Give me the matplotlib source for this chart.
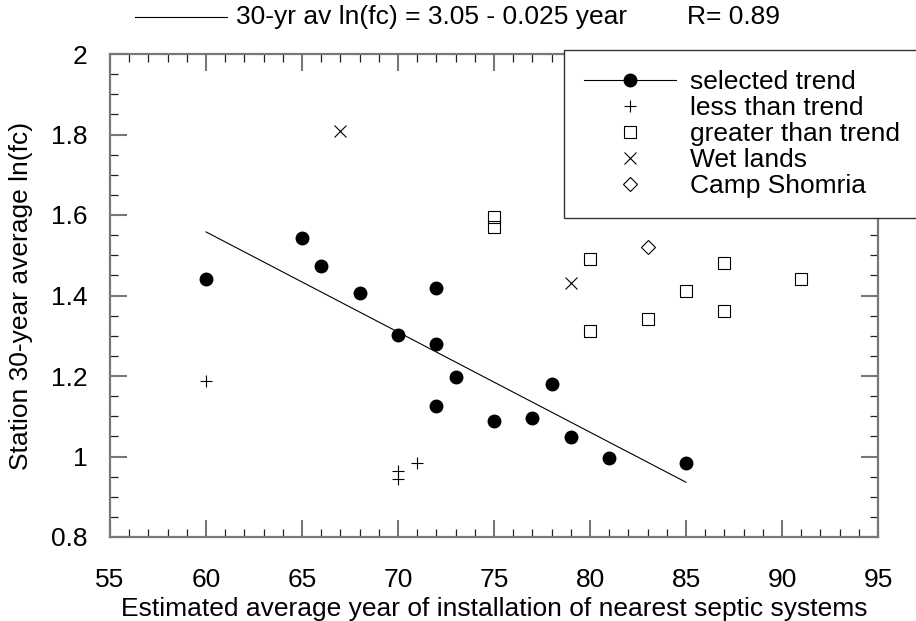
import matplotlib
matplotlib.use("Agg")
import matplotlib.pyplot as plt
from matplotlib.lines import Line2D
from matplotlib.ticker import MultipleLocator, FuncFormatter
from matplotlib.legend_handler import HandlerTuple

plt.rcParams['font.family'] = ['Liberation Sans', 'DejaVu Sans']

# ---- data ----
sel_x = [60, 65, 66, 68, 70, 72, 72, 72, 73, 75, 77, 78, 79, 81, 85]
sel_y = [1.440, 1.542, 1.474, 1.406, 1.302, 1.418, 1.280, 1.126, 1.198, 1.088,
         1.096, 1.179, 1.048, 0.997, 0.985]

less_x = [60, 70, 70, 71]
less_y = [1.188, 0.964, 0.945, 0.983]

greater_x = [75, 75, 80, 80, 83, 85, 87, 87, 91]
greater_y = [1.594, 1.569, 1.490, 1.311, 1.341, 1.410, 1.480, 1.361, 1.440]

wet_x = [67, 79]
wet_y = [1.809, 1.430]

camp_x = [83]
camp_y = [1.520]

trend_x = [60, 85]
trend_y = [1.558, 0.936]

x_ticks = [55, 60, 65, 70, 75, 80, 85, 90, 95]
y_ticks = [0.8, 1.0, 1.2, 1.4, 1.6, 1.8, 2.0]

title_text = "30-yr av ln(fc) = 3.05 - 0.025 year"
r_text = "R= 0.89"
xlabel = "Estimated average year of installation of nearest septic systems"
ylabel = "Station 30-year average ln(fc)"
labels = ["selected trend", "less than trend", "greater than trend",
          "Wet lands", "Camp Shomria"]

FS = 19
W, H = 916, 621
fig = plt.figure(figsize=(W / 100, H / 100), dpi=100)
ax = fig.add_axes([110 / W, 1 - 537 / H, (878 - 110) / W, (537 - 54) / H])

trend_line, = ax.plot(trend_x, trend_y, '-', color='black', lw=0.8)
dots, = ax.plot(sel_x, sel_y, 'o', color='black', ms=9, mec='black')
pl, = ax.plot(less_x, less_y, '+', color='black', ms=9, mew=0.8)
sq, = ax.plot(greater_x, greater_y, 's', mfc='none', mec='black', ms=8, mew=0.8)
wx, = ax.plot(wet_x, wet_y, 'x', color='black', ms=8.5, mew=0.8)
dm, = ax.plot(camp_x, camp_y, 'D', mfc='none', mec='black', ms=7.6, mew=0.8)

ax.set_xlim(55, 95)
ax.set_ylim(0.8, 2.0)
ax.set_xticks(x_ticks)
ax.set_yticks(y_ticks)
ax.xaxis.set_minor_locator(MultipleLocator(1))
ax.yaxis.set_minor_locator(MultipleLocator(0.05))
ax.yaxis.set_major_formatter(FuncFormatter(lambda v, p: '%g' % round(v, 2)))
ax.tick_params(which='both', direction='in', top=True, right=True,
               labelsize=FS)
ax.tick_params(which='major', length=12, width=1.5, color='#777777')
ax.tick_params(which='minor', length=6, width=0.9, color='#222222')
ax.tick_params(axis='x', which='major', pad=22)
ax.tick_params(axis='y', which='major', pad=16)
for s in ax.spines.values():
    s.set_color('#777777')
    s.set_linewidth(1.6)

ax.set_xlabel(xlabel, fontsize=FS, labelpad=4)
ax.set_ylabel(ylabel, fontsize=FS, labelpad=13)

leg = ax.legend([(trend_line, dots), pl, sq, wx, dm], labels,
                handler_map={tuple: HandlerTuple(ndivide=1)},
                loc='upper left', bbox_to_anchor=(564 / W, 1 - 50 / H),
                bbox_transform=fig.transFigure, borderaxespad=0,
                fontsize=FS, numpoints=1, handlelength=3.48,
                handletextpad=0.55, borderpad=0.75, labelspacing=0.08,
                fancybox=False, framealpha=1, edgecolor='#333333')
leg.get_frame().set_linewidth(1.0)

fig.add_artist(Line2D([135 / W, 227 / W], [1 - 17 / H, 1 - 17 / H],
                      transform=fig.transFigure, color='black', lw=0.8))
fig.text(236 / W, 1 - 17 / H, title_text, fontsize=FS, va='center', ha='left')
fig.text(687 / W, 1 - 17 / H, r_text, fontsize=FS, va='center', ha='left')

fig.savefig("out.png", dpi=100)
